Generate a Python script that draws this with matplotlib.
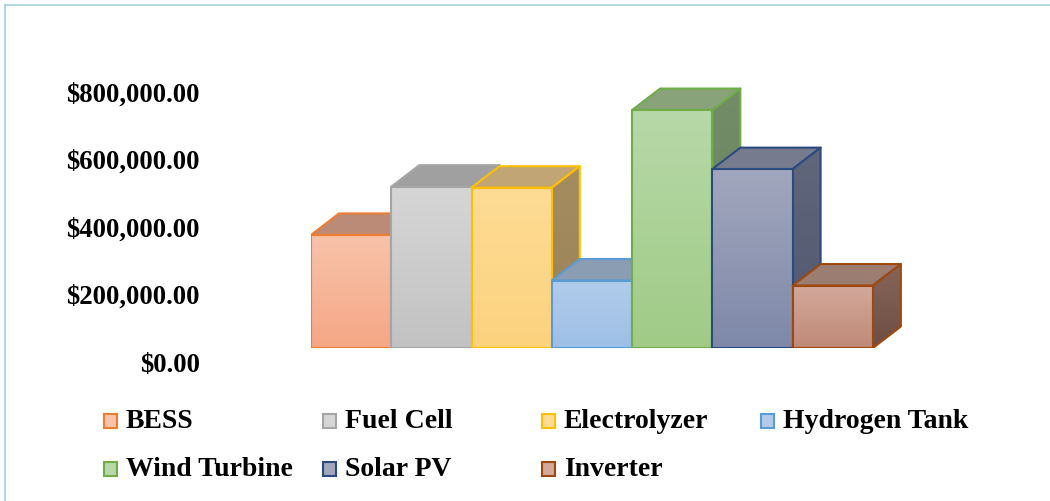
import numpy as np
import matplotlib
matplotlib.use("Agg")
import matplotlib.pyplot as plt
from matplotlib.patches import Polygon, Rectangle
from matplotlib.lines import Line2D
import matplotlib.transforms as mtransforms
from matplotlib.colors import to_rgb

# Component costs (USD)
categories = ["BESS", "Fuel Cell", "Electrolyzer", "Hydrogen Tank",
              "Wind Turbine", "Solar PV", "Inverter"]
costs = [335000, 478000, 475000, 200000, 705000, 530000, 185000]
tick_values = [0, 200000, 400000, 600000, 800000]

# Face colours for each column: front (top/bottom of gradient), top, side, outline
front_light = ["#F8C3AA", "#D6D6D6", "#FEDC95", "#B1CCEB", "#B7D8A8", "#A1A7BD", "#D3A99B"]
front_dark = ["#F5A785", "#C2C2C2", "#FCD27E", "#9DBFE6", "#A0CB86", "#7E88A8", "#C08977"]
top_colors = ["#BC8B78", "#A0A0A0", "#C1A575", "#8A9DB3", "#88A37A", "#767C8D", "#9C7D72"]
side_light = ["#A27462", "#8C8C8C", "#A58D60", "#74869C", "#738D68", "#61677B", "#866559"]
side_dark = ["#8E5F4E", "#7A7A7A", "#9A8258", "#65768C", "#67805C", "#4F5770", "#6E4E44"]
edge_colors = ["#ED7D31", "#A5A5A5", "#FFC000", "#5B9BD5", "#70AD47", "#2B4A80", "#9E480E"]

W, H = 1050, 501
fig = plt.figure(figsize=(W / 100, H / 100), dpi=100)
plt.rcParams["font.family"] = ["Liberation Serif", "DejaVu Serif"]

# plot area in pixels
ax_left, ax_base, ax_w, ax_h = 311, 348, 602, 288
ax = fig.add_axes([ax_left / W, (H - ax_base) / H, ax_w / W, ax_h / H])
x_lo, x_hi = -0.5, 7.0
px_per_value = 67.5 / 200000
y_hi = ax_h / px_per_value
ax.set_xlim(x_lo, x_hi)
ax.set_ylim(0, y_hi)

# oblique depth of the columns, in data units
dx = 28 / (ax_w / (x_hi - x_lo))
dy = 21.5 / px_per_value
edge_lw = 1.5


def shaded_face(xy, c_top, c_bot, zorder):
    xy = np.asarray(xy, dtype=float)
    clip = Polygon(xy, closed=True, facecolor="none", edgecolor="none")
    ax.add_patch(clip)
    g = np.linspace(0, 1, 256)[:, None, None]
    img = np.array(to_rgb(c_top))[None, None, :] * (1 - g) + \
        np.array(to_rgb(c_bot))[None, None, :] * g
    im = ax.imshow(img, extent=[xy[:, 0].min(), xy[:, 0].max(),
                                xy[:, 1].min(), xy[:, 1].max()],
                   origin="upper", aspect="auto", interpolation="bilinear",
                   zorder=zorder)
    im.set_clip_path(clip)


for i, h in enumerate(costs):
    x0, x1 = i - 0.5, i + 0.5
    base = 10 + 5 * i
    ec = edge_colors[i]
    top = [(x0, h), (x1, h), (x1 + dx, h + dy), (x0 + dx, h + dy)]
    side = [(x1, 0), (x1 + dx, dy), (x1 + dx, h + dy), (x1, h)]
    front = [(x0, 0), (x1, 0), (x1, h), (x0, h)]
    ax.add_patch(Polygon(top, closed=True, facecolor=top_colors[i],
                         edgecolor=ec, lw=edge_lw, zorder=base, joinstyle="round"))
    shaded_face(side, side_light[i], side_dark[i], base + 1)
    ax.add_patch(Polygon(side, closed=True, facecolor="none",
                         edgecolor=ec, lw=edge_lw, zorder=base + 2, joinstyle="round"))
    shaded_face(front, front_light[i], front_dark[i], base + 3)
    ax.add_patch(Polygon(front, closed=True, facecolor="none",
                         edgecolor=ec, lw=edge_lw, zorder=base + 4, joinstyle="round"))

ax.set_xlim(x_lo, x_hi)
ax.set_ylim(0, y_hi)
for s in ax.spines.values():
    s.set_visible(False)
ax.set_xticks([])
ax.set_yticks(tick_values)
ax.set_yticklabels(["${:,.2f}".format(v) for v in tick_values],
                   fontsize=19.3, fontweight="bold")
ax.tick_params(axis="y", length=0, pad=80)
shift = mtransforms.ScaledTranslation(0, -14 / 100, fig.dpi_scale_trans)
for lbl in ax.get_yticklabels():
    lbl.set_transform(lbl.get_transform() + shift)
ax.patch.set_visible(False)

# legend laid out in a 4-column grid
for i, name in enumerate(categories):
    col, row = i % 4, i // 4
    px = 104 + 219 * col
    py = 421 + 48 * row
    fig.add_artist(Rectangle((px / W, 1 - (py + 7) / H), 13 / W, 14 / H,
                             transform=fig.transFigure,
                             facecolor=front_light[i], edgecolor=edge_colors[i],
                             lw=1.5))
    fig.text((px + 22) / W, 1 - py / H, name, ha="left", va="center",
             fontsize=20, fontweight="bold", color="black")

# chart area frame
frame_c = "#A4CFDF"
fig.add_artist(Line2D([4.5 / W, 4.5 / W], [0, 1 - 4.5 / H], color=frame_c,
                      lw=1.2, transform=fig.transFigure))
fig.add_artist(Line2D([4.5 / W, 1], [1 - 4.5 / H, 1 - 4.5 / H], color=frame_c,
                      lw=1.2, transform=fig.transFigure))

fig.savefig("out.png", dpi=100, facecolor="white")
